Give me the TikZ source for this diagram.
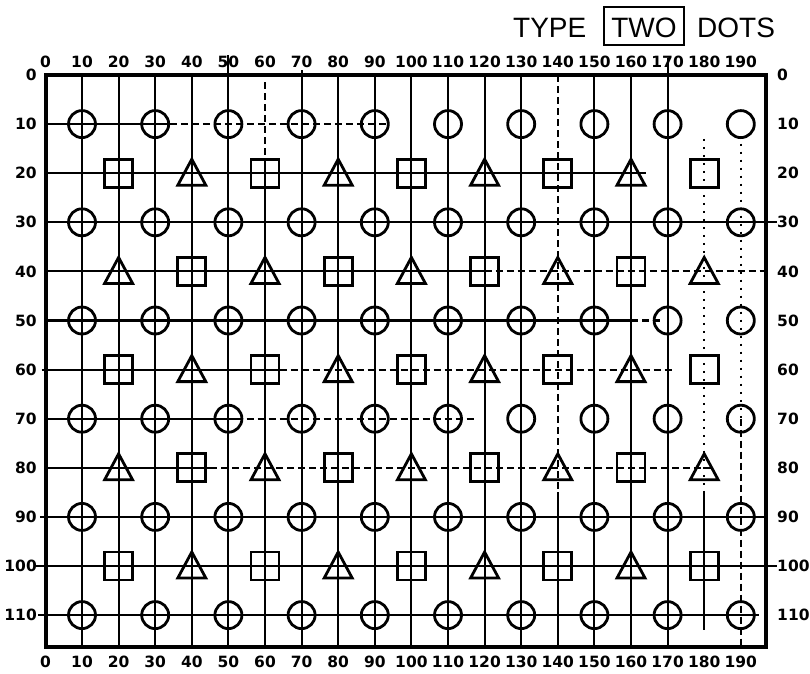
\documentclass[tikz,border=0pt]{standalone}
\usepackage{fontspec}
\setmainfont{Liberation Sans}
\newfontfamily\labfont{DejaVu Sans}
\newcommand\mysqr[2]{\draw[sym] (#1,#2) ++(-14pt,-14pt) rectangle ++(28pt,28pt);}
\newcommand\mytri[2]{\draw[sym] (#1,#2) ++(0pt,14pt) -- ++(14pt,-26pt) -- ++(-28pt,0pt) -- cycle;}
\begin{document}
\begin{tikzpicture}[x=3.66pt,y=-4.91pt,
  frame/.style={line width=3.2pt},
  gline/.style={line width=2.1pt},
  gdash/.style={line width=2.1pt,dash pattern=on 7pt off 4pt},
  gdot/.style={line width=2.1pt,dash pattern=on 2pt off 6pt},
  sym/.style={line width=2.8pt},
  lab/.style={font=\labfont\bfseries\fontsize{15.5}{15.5}\selectfont, inner sep=0pt},
  ttl/.style={font=\fontsize{28}{28}\selectfont, inner sep=0pt}]
\begin{scope}[x=1pt,y=-1pt,shift={(-45.4pt,75pt)}]
  \fill[white] (0,0) rectangle (810,673);
  \useasboundingbox (0,0) rectangle (810,673);
  \node[ttl,anchor=base west] (t1) at (513,37) {TYPE};
  \node[ttl,anchor=base] (t2) at (644,37) {TWO};
  \draw[line width=2.2pt] (604,7) rectangle (684,45);
  \node[ttl,anchor=base west] (t3) at (697,37) {DOTS};
\end{scope}
% frame
\draw[frame] (0.16,0) rectangle (196.9,116.5);
% horizontal lines
\draw[gline] (0,10) -- (34,10); \draw[gdash] (34,10) -- (94,10);
\draw[gline] (0,20) -- (164,20);
\draw[gline] (0,30) -- (200,30);
\draw[gline] (0,40) -- (120,40); \draw[gdash] (120,40) -- (196.9,40);
\draw[gline] (0,50) -- (160,50); \draw[gdash] (160,50) -- (168,50);
\draw[gline] (-1,60) -- (64,60); \draw[gdash] (64,60) -- (171.5,60);
\draw[gline] (0,70) -- (52,70); \draw[gdash] (52,70) -- (118,70);
\draw[gline] (0,80) -- (45,80); \draw[gdash] (45,80) -- (183,80);
\draw[gline] (-1.5,90) -- (196.9,90);
\draw[gline] (-2.5,100) -- (200,100);
\draw[gline] (-2,110) -- (195,110);
% vertical lines
\foreach \v in {10,20,30,40,80,90,100,110,120,130,150,160}{
  \draw[gline] (\v,0) -- (\v,116.5);}
\draw[gline] (50,-4) -- (50,116.5);
\draw[gdash] (60,1.5) -- (60,17); \draw[gline] (60,17) -- (60,116.5);
\draw[gline] (70,-1) -- (70,116.5);
\draw[gdash] (140,0) -- (140,85); \draw[gline] (140,85) -- (140,116.5);
\draw[gline] (170,-3.5) -- (170,116.5);
\draw[gdot] (180,13) -- (180,85); \draw[gline] (180,85) -- (180,113);
\draw[gdot] (190,14) -- (190,70); \draw[gdash] (190,70) -- (190,116.5);
% symbols
\foreach \r in {10,30,...,110}{
  \foreach \v in {10,30,...,190}{
    \draw[sym] (\v,\r) circle[radius=13.5pt];}}
\foreach \r in {20,60,100}{
  \foreach \v in {20,60,...,180}{\mysqr{\v}{\r}}
  \foreach \v in {40,80,...,160}{\mytri{\v}{\r}}
}
\foreach \r in {40,80}{
  \foreach \v in {20,60,...,180}{\mytri{\v}{\r}}
  \foreach \v in {40,80,...,160}{\mysqr{\v}{\r}}
}
% labels
\foreach \v in {0,10,...,190}{
  \node[lab] (top\v) at (\v,-2.65) {\v};
  \node[lab] (bot\v) at (\v,119.55) {\v};
}
\foreach \r in {0,10,...,110}{
  \node[lab,anchor=east] (lft\r) at (-2.3,\r) {\r};
  \node[lab,anchor=west] (rgt\r) at (199.9,\r) {\r};
}
\end{tikzpicture}
\end{document}
